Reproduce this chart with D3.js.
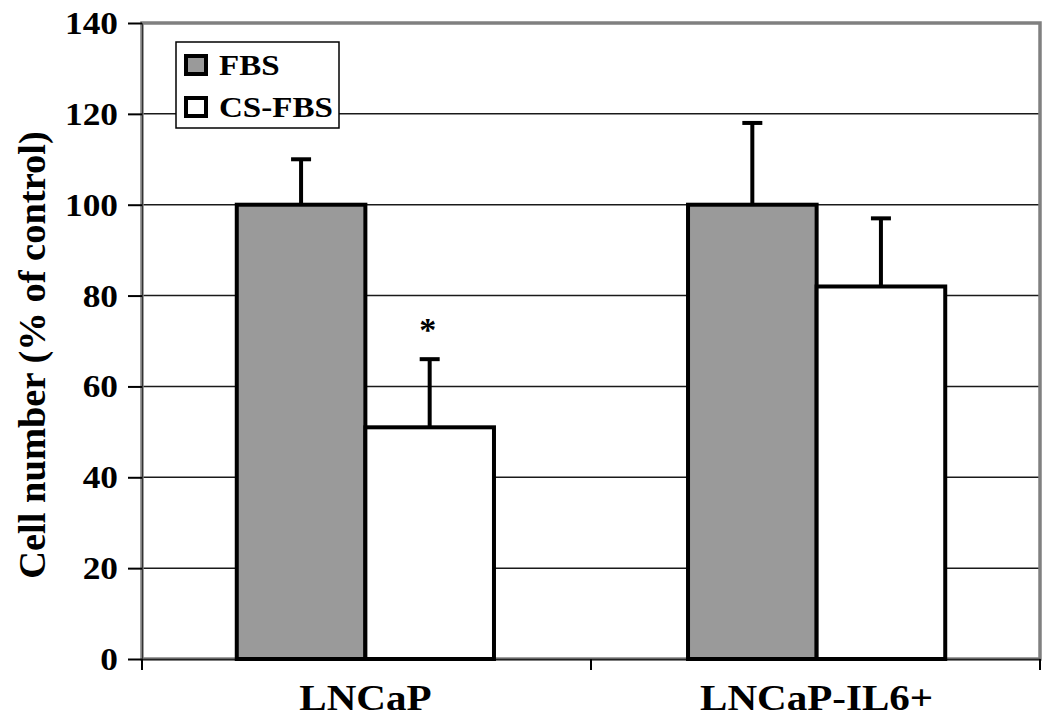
<!DOCTYPE html>
<html><head><meta charset="utf-8">
<script src="https://cdn.jsdelivr.net/npm/d3@7"></script>
<style>body{margin:0;background:#fff}svg{display:block}text{font-family:"Liberation Serif","Times New Roman",serif;font-weight:bold;fill:#000}</style>
</head><body><svg id="c" width="1050" height="723"></svg>
<script>
const categories = ["LNCaP", "LNCaP-IL6+"];
const seriesNames = ["FBS", "CS-FBS"];
const fbsValues = [100, 100];
const fbsErrors = [10, 18];
const csValues = [51, 82];
const csErrors = [15, 15];
const significance = ["*", ""];
const yTicks = [0, 20, 40, 60, 80, 100, 120, 140];
const yTitle = "Cell number (% of control)";
const fills = ["#9a9a9a", "#ffffff"];

const svg = d3.select("#c");
const L = 142, R = 1040, T = 23, B = 659;
const SX = 1.14;
const x = d3.scaleBand().domain(categories).range([L, R]).paddingInner(0.43).paddingOuter(0.21);
const xs = d3.scaleBand().domain(seriesNames).range([0, x.bandwidth()]);
const y = d3.scaleLinear().domain([0, 140]).range([B, T]);

// plot background
svg.append("rect").attr("x", L).attr("y", T).attr("width", R - L).attr("height", B - T).attr("fill", "#fff");

// gridlines
svg.append("g").selectAll("line").data(yTicks.filter(t => t > 0 && t < 140)).join("line")
  .attr("x1", L).attr("x2", R).attr("y1", d => y(d)).attr("y2", d => y(d))
  .attr("stroke", "#1a1a1a").attr("stroke-width", 1.5);

// border (gray)
svg.append("rect").attr("x", L).attr("y", T).attr("width", R - L).attr("height", B - T)
  .attr("fill", "none").attr("stroke", "#808080").attr("stroke-width", 3.5);

// y axis
const yAxis = svg.append("g").attr("transform", `translate(${L},0)`)
  .call(d3.axisLeft(y).tickValues(yTicks).tickSize(14).tickPadding(10).tickFormat(d3.format("d")));
yAxis.select(".domain").attr("stroke", "#333").attr("stroke-width", 1);
yAxis.selectAll(".tick line").attr("stroke", "#000").attr("stroke-width", 2);
yAxis.selectAll(".tick text").attr("font-size", 31).attr("font-family", "Liberation Serif").attr("font-weight", "bold")
  .attr("fill", "#000").attr("dy", "0.34em")
  .each(function () { const t = d3.select(this); const xx = +t.attr("x"); t.attr("x", xx / SX).attr("transform", `scale(${SX},1)`); });

// x axis
const xAxis = svg.append("g").attr("transform", `translate(0,${B})`)
  .call(d3.axisBottom(x).tickSize(0).tickFormat(() => ""));
xAxis.select(".domain").attr("stroke", "#222").attr("stroke-width", 1.5);
xAxis.selectAll(".tick").remove();
const xb = [L, (x(categories[0]) + x.bandwidth() + x(categories[1])) / 2, R];
svg.append("g").selectAll("line").data(xb).join("line")
  .attr("x1", d => d).attr("x2", d => d).attr("y1", B).attr("y2", B + 11)
  .attr("stroke", "#000").attr("stroke-width", 2);
svg.append("g").selectAll("text").data(categories).join("text")
  .attr("transform", d => `translate(${x(d) + x.bandwidth() / 2},710) scale(${SX},1)`)
  .attr("text-anchor", "middle").attr("font-size", 36).text(d => d);

// y title
svg.append("text").attr("transform", `translate(45,${(T + B) / 2 + 14}) rotate(-90)`)
  .attr("text-anchor", "middle").attr("font-size", 38.5).text(yTitle);

// bars
const rows = categories.map((c, i) => [
  { c, s: seriesNames[0], v: fbsValues[i], e: fbsErrors[i], f: fills[0], sig: "" },
  { c, s: seriesNames[1], v: csValues[i], e: csErrors[i], f: fills[1], sig: significance[i] }
]).flat();
const g = svg.append("g");
g.selectAll("line.err").data(rows).join("line").attr("class", "err")
  .attr("x1", d => x(d.c) + xs(d.s) + xs.bandwidth() / 2).attr("x2", d => x(d.c) + xs(d.s) + xs.bandwidth() / 2)
  .attr("y1", d => y(d.v)).attr("y2", d => y(d.v + d.e)).attr("stroke", "#000").attr("stroke-width", 4);
g.selectAll("line.cap").data(rows).join("line").attr("class", "cap")
  .attr("x1", d => x(d.c) + xs(d.s) + xs.bandwidth() / 2 - 10).attr("x2", d => x(d.c) + xs(d.s) + xs.bandwidth() / 2 + 10)
  .attr("y1", d => y(d.v + d.e)).attr("y2", d => y(d.v + d.e)).attr("stroke", "#000").attr("stroke-width", 4);
g.selectAll("rect.bar").data(rows).join("rect").attr("class", "bar")
  .attr("x", d => x(d.c) + xs(d.s)).attr("width", xs.bandwidth())
  .attr("y", d => y(d.v)).attr("height", d => y(0) - y(d.v))
  .attr("fill", d => d.f).attr("stroke", "#000").attr("stroke-width", 4);
g.selectAll("text.sig").data(rows.filter(d => d.sig)).join("text").attr("class", "sig")
  .attr("x", d => x(d.c) + xs(d.s) + xs.bandwidth() / 2 - 2).attr("y", d => y(d.v + d.e) - 18)
  .attr("text-anchor", "middle").attr("font-size", 34).text(d => d.sig);

// legend
const lg = svg.append("g").attr("transform", "translate(176,42)");
lg.append("rect").attr("width", 163).attr("height", 86).attr("fill", "#fff").attr("stroke", "#000").attr("stroke-width", 1.5);
seriesNames.forEach((s, i) => {
  const yy = 14 + i * 42;
  lg.append("rect").attr("x", 10).attr("y", yy).attr("width", 20).attr("height", 18)
    .attr("fill", fills[i]).attr("stroke", "#000").attr("stroke-width", 4);
  lg.append("text").attr("transform", `translate(43,${yy + 19}) scale(${SX},1)`).attr("font-size", 29).text(s);
});
</script></body></html>
